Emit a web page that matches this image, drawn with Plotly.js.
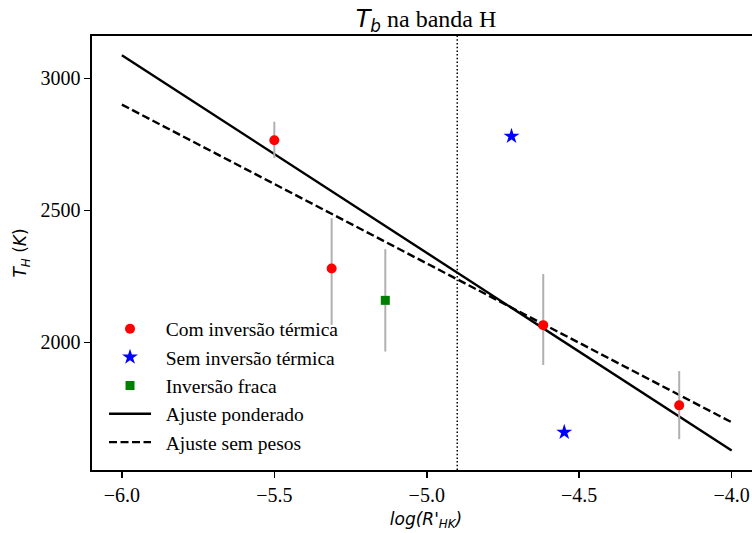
<!DOCTYPE html>
<html>
<head>
<meta charset="utf-8">
<script src="https://cdn.plot.ly/plotly-3.0.1.min.js"></script>
<style>
html,body{margin:0;padding:0;overflow:hidden;background:#fff;width:752px;height:533px;}
#chart{width:760px;height:533px;}
</style>
</head>
<body>
<div id="chart"></div>
<script>
// Com inversão térmica
const logR_com = [-5.50, -5.312, -4.618, -4.172];
const T_com = [2766, 2280, 2065, 1761];
const err_com_plus = [70, 190, 194, 130];
const err_com_minus = [67, 214, 151, 128];
// Sem inversão térmica
const logR_sem = [-4.722, -4.549];
const T_sem = [2781, 1659];
// Inversão fraca
const logR_fraca = [-5.136];
const T_fraca = [2159];
const err_fraca = [194];
// Ajustes
const fit_x = [-6.0, -4.0];
const fit_pond = [3088, 1590];
const fit_sem = [2901, 1697];
// Linha vertical
const vline_x = -4.9;

const serif = 'Liberation Serif';
const sans = 'DejaVu Sans';
const gap = '\u2002';

const traces = [
  {x: fit_x, y: fit_pond, mode: 'lines', name: gap + 'Ajuste ponderado', legendrank: 4,
   line: {color: '#000', width: 2.4}},
  {x: fit_x, y: fit_sem, mode: 'lines', name: gap + 'Ajuste sem pesos', legendrank: 5,
   line: {color: '#000', width: 2.4, dash: '8px,3.5px'}},
  {x: logR_com, y: T_com, mode: 'markers', name: gap + 'Com inversão térmica', legendrank: 1,
   marker: {color: '#ff0000', size: 10, symbol: 'circle'},
   error_y: {type: 'data', symmetric: false, array: err_com_plus, arrayminus: err_com_minus,
             visible: true, color: '#b0b0b0', thickness: 2, width: 0}},
  {x: logR_sem, y: T_sem, mode: 'markers', name: gap + 'Sem inversão térmica', legendrank: 2,
   marker: {color: '#0000ff', size: 12, symbol: 'star'}},
  {x: logR_fraca, y: T_fraca, mode: 'markers', name: gap + 'Inversão fraca', legendrank: 3,
   marker: {color: '#008000', size: 9, symbol: 'square'},
   error_y: {type: 'data', array: err_fraca, visible: true, color: '#b0b0b0', thickness: 2, width: 0}}
];

const layout = {
  width: 760, height: 533,
  margin: {l: 92, r: 0, t: 36, b: 63, pad: 0},
  paper_bgcolor: '#fff', plot_bgcolor: '#fff',
  showlegend: true,
  title: {
    text: "<span style='font-family:DejaVu Sans'><i>T</i><sub><i>b</i></sub></span> na banda H",
    font: {family: serif, size: 24, color: '#000'},
    x: 0.5, xref: 'paper', xanchor: 'center',
    y: 1 - 19/533, yref: 'container', yanchor: 'middle'
  },
  xaxis: {
    range: [-6.098, -3.907], tickvals: [-6.0, -5.5, -5.0, -4.5, -4.0], tickformat: '.1f',
    showgrid: false, zeroline: false, showline: true, linecolor: '#000', linewidth: 1.6, mirror: true,
    ticks: 'outside', ticklen: 6, tickwidth: 1.6, tickcolor: '#000',
    tickfont: {family: serif, size: 20, color: '#000'},
    title: {text: "<i>log(R'<sub>HK</sub>)</i>", font: {family: sans, size: 17, color: '#000'}, standoff: 8}
  },
  yaxis: {
    range: [1516, 3161], tickvals: [2000, 2500, 3000],
    showgrid: false, zeroline: false, showline: true, linecolor: '#000', linewidth: 1.6, mirror: true,
    ticks: 'outside', ticklen: 6, tickwidth: 1.6, tickcolor: '#000',
    tickfont: {family: serif, size: 20, color: '#000'},
    title: {text: "<i>T<sub>H</sub></i> (<i>K</i>)", font: {family: sans, size: 17, color: '#000'}, standoff: 9}
  },
  legend: {
    x: 0.018, y: 0.3698, xanchor: 'left', yanchor: 'top',
    bgcolor: 'rgba(255,255,255,0)', borderwidth: 0, itemwidth: 42,
    font: {family: serif, size: 19.5, color: '#000'}
  },
  shapes: [
    {type: 'line', xref: 'x', yref: 'paper', x0: vline_x, x1: vline_x, y0: 0, y1: 1,
     line: {color: '#000', width: 1.5, dash: '1.5px,2.2px'}}
  ]
};

Plotly.newPlot('chart', traces, layout, {displayModeBar: false, staticPlot: true});
</script>
</body>
</html>
